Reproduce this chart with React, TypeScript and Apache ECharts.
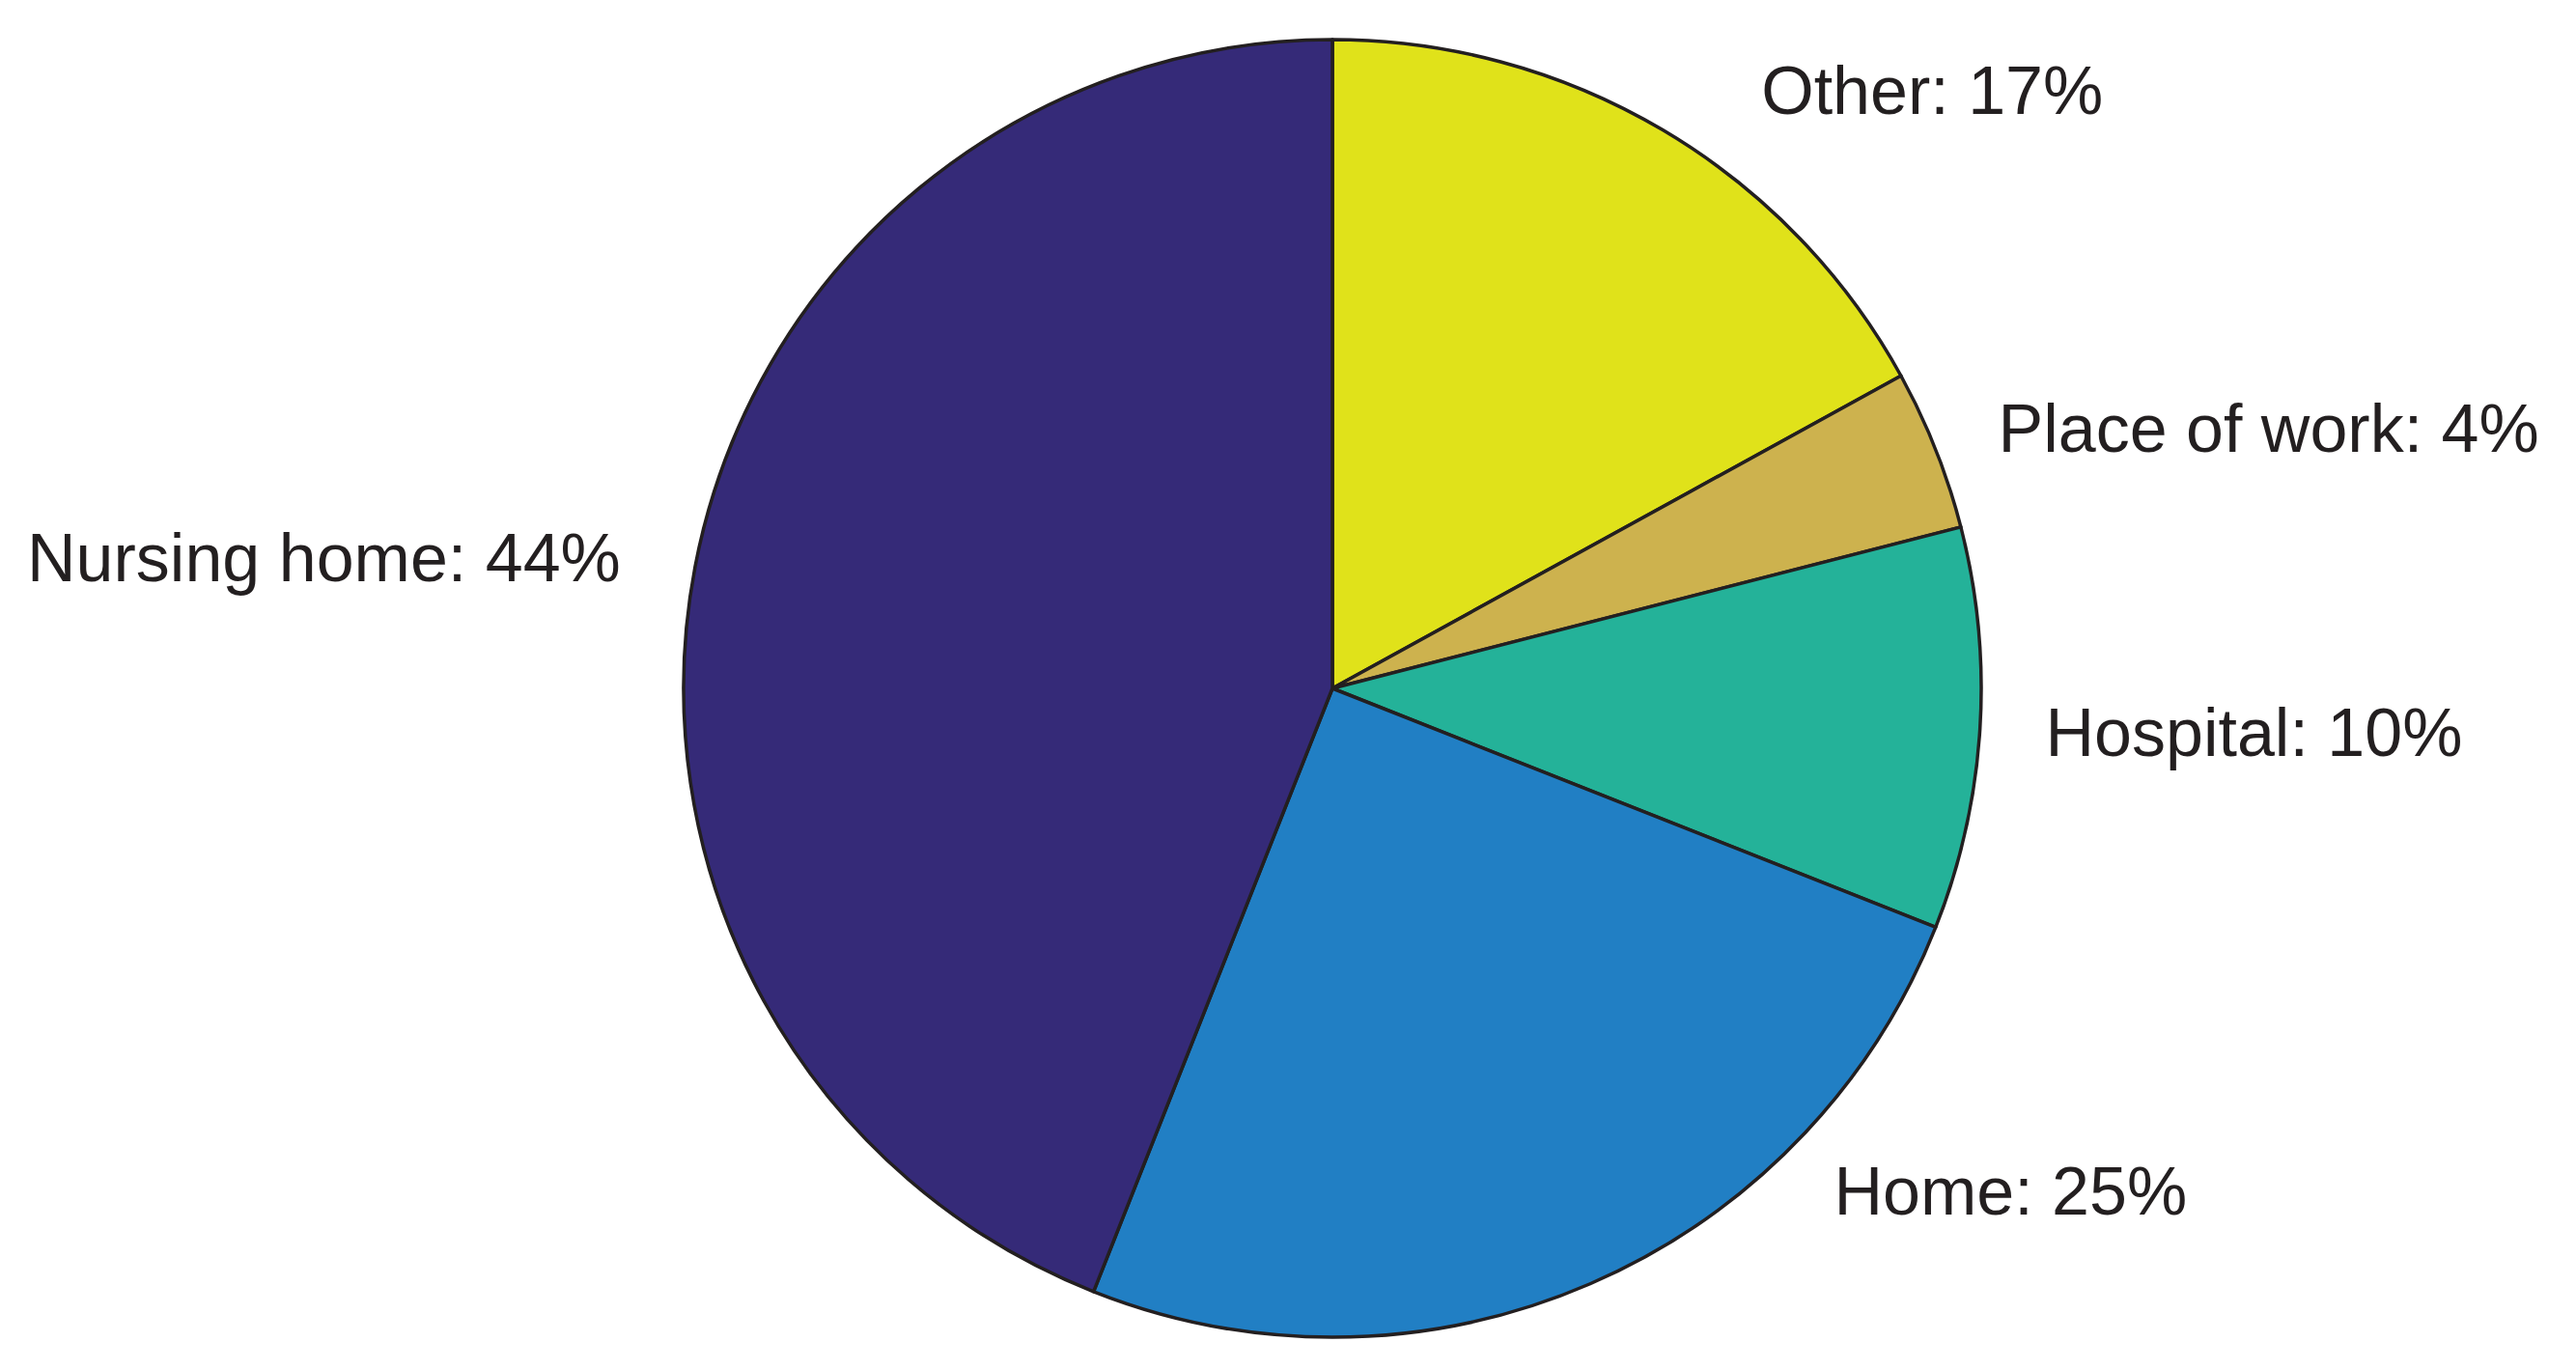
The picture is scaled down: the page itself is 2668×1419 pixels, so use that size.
import React, { useEffect, useRef } from "react";
import * as echarts from "echarts";

// Data (clockwise from 12 o'clock)
const categories = ["Other", "Place of work", "Hospital", "Home", "Nursing home"];
const values = [17, 4, 10, 25, 44];
const colors = ["#E0E21A", "#CDB24E", "#24B299", "#217FC4", "#352A78"];

// Layout
const W = 2668;
const H = 1419;
const CX = 1380;
const CY = 713;
const R = 672;
// label anchors relative to pie centre, in units of the radius
const labelAnchors: [number, number, "left" | "right"][] = [
  [0.661, -0.921, "left"],
  [1.026, -0.401, "left"],
  [1.099, 0.069, "left"],
  [0.773, 0.775, "left"],
  [-1.097, -0.201, "right"],
];

export default function App() {
  const ref = useRef<HTMLDivElement>(null);
  useEffect(() => {
    document.body.style.margin = "0";
    const chart = echarts.init(ref.current!, null, { renderer: "svg" });
    chart.setOption({
      animation: false,
      backgroundColor: "#ffffff",
      series: [
        {
          type: "pie",
          center: [CX, CY],
          radius: R,
          startAngle: 90,
          clockwise: true,
          avoidLabelOverlap: false,
          data: categories.map((c, i) => ({
            name: c,
            value: values[i],
            itemStyle: { color: colors[i] },
          })),
          itemStyle: { borderColor: "#231F20", borderWidth: 3.5 },
          label: {
            show: true,
            position: "outside",
            formatter: (p: any) => `${p.name}: ${p.value}%`,
            fontFamily: "Liberation Sans, Arial, Helvetica, sans-serif",
            fontSize: 70,
            color: "#231F20",
          },
          labelLine: { show: false },
          labelLayout: (p: any) => {
            const a = labelAnchors[p.dataIndex];
            return {
              x: CX + a[0] * R,
              y: CY + a[1] * R,
              align: a[2],
              verticalAlign: "middle",
            };
          },
          emphasis: { disabled: true },
        },
      ],
    });
    return () => chart.dispose();
  }, []);
  return (
    <div
      ref={ref}
      style={{ position: "absolute", left: 0, top: 0, width: W, height: H }}
    />
  );
}
